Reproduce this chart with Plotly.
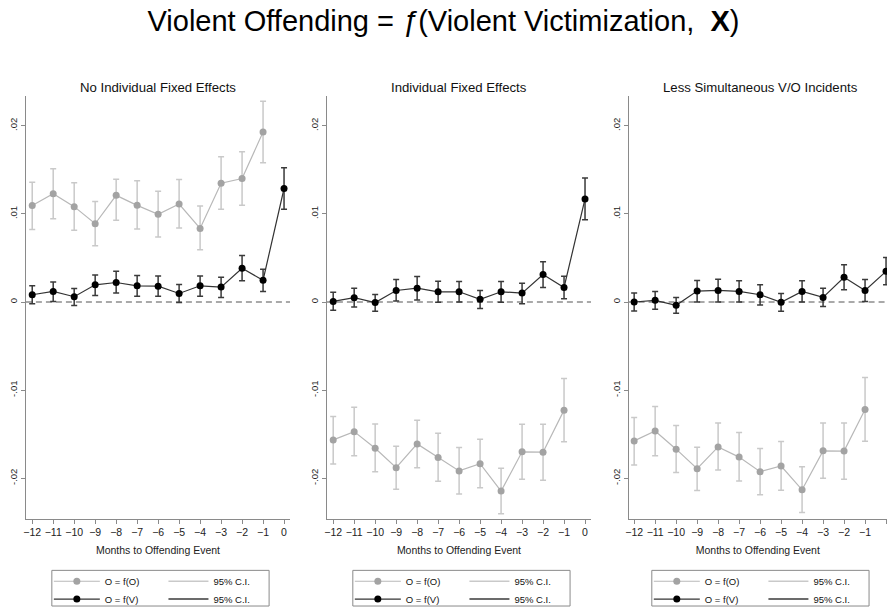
import plotly.graph_objects as go

W, H = 887, 614

months = [-12, -11, -10, -9, -8, -7, -6, -5, -4, -3, -2, -1, 0]
months_o = months[:-1]

panel_titles = ["No Individual Fixed Effects", "Individual Fixed Effects", "Less Simultaneous V/O Incidents"]
x_title = "Months to Offending Event"
name_o = "O = f(O)"
name_v = "O = f(V)"
name_ci = "95% C.I."

# Panel 1: no individual fixed effects
p1_o = [0.01094, 0.01228, 0.01082, 0.00888, 0.01210, 0.01097, 0.00996, 0.01112, 0.00835, 0.01348, 0.01401, 0.01929]
p1_o_hi = [0.01360, 0.01513, 0.01352, 0.01139, 0.01393, 0.01375, 0.01258, 0.01390, 0.01090, 0.01648, 0.01704, 0.02277]
p1_o_lo = [0.00824, 0.00944, 0.00813, 0.00637, 0.00929, 0.00828, 0.00738, 0.00839, 0.00592, 0.01052, 0.01097, 0.01580]
p1_v = [0.00082, 0.00120, 0.00060, 0.00195, 0.00221, 0.00184, 0.00180, 0.00097, 0.00184, 0.00169, 0.00382, 0.00247, 0.01288]
p1_v_hi = [0.00184, 0.00228, 0.00154, 0.00307, 0.00348, 0.00300, 0.00296, 0.00199, 0.00296, 0.00281, 0.00528, 0.00371, 0.01524]
p1_v_lo = [-0.00019, 0.00007, -0.00041, 0.00075, 0.00101, 0.00064, 0.00064, -0.00007, 0.00064, 0.00052, 0.00240, 0.00120, 0.01052]

# Panel 2: individual fixed effects
p2_o = [-0.01565, -0.01471, -0.01659, -0.01880, -0.01610, -0.01764, -0.01917, -0.01835, -0.02146, -0.01700, -0.01704, -0.01227]
p2_o_hi = [-0.01298, -0.01193, -0.01385, -0.01636, -0.01343, -0.01490, -0.01651, -0.01557, -0.01887, -0.01388, -0.01388, -0.00867]
p2_o_lo = [-0.01839, -0.01745, -0.01925, -0.02124, -0.01880, -0.02034, -0.02180, -0.02109, -0.02402, -0.02011, -0.02023, -0.01587]
p2_v = [0.00007, 0.00049, -0.00007, 0.00131, 0.00157, 0.00116, 0.00116, 0.00030, 0.00116, 0.00101, 0.00311, 0.00165, 0.01169]
p2_v_hi = [0.00112, 0.00157, 0.00086, 0.00255, 0.00288, 0.00236, 0.00232, 0.00131, 0.00232, 0.00213, 0.00457, 0.00292, 0.01408]
p2_v_lo = [-0.00094, -0.00056, -0.00105, 0.00011, 0.00022, -0.00004, 0.00000, -0.00075, -0.00004, -0.00019, 0.00165, 0.00037, 0.00933]

# Panel 3: less simultaneous V/O incidents
p3_o = [-0.01576, -0.01463, -0.01670, -0.01891, -0.01644, -0.01760, -0.01925, -0.01861, -0.02131, -0.01689, -0.01692, -0.01220]
p3_o_hi = [-0.01310, -0.01186, -0.01400, -0.01647, -0.01373, -0.01482, -0.01662, -0.01583, -0.01869, -0.01373, -0.01373, -0.00856]
p3_o_lo = [-0.01850, -0.01745, -0.01936, -0.02139, -0.01906, -0.02030, -0.02188, -0.02135, -0.02390, -0.02000, -0.02011, -0.01580]
p3_v = [0.00000, 0.00019, -0.00037, 0.00124, 0.00131, 0.00120, 0.00082, -0.00004, 0.00120, 0.00052, 0.00281, 0.00131, 0.00348]
p3_v_hi = [0.00101, 0.00120, 0.00052, 0.00243, 0.00258, 0.00240, 0.00195, 0.00097, 0.00240, 0.00157, 0.00423, 0.00255, 0.00506]
p3_v_lo = [-0.00101, -0.00082, -0.00127, 0.00000, 0.00000, 0.00000, -0.00034, -0.00105, 0.00000, -0.00052, 0.00139, 0.00007, 0.00195]

y_tickvals = [-0.02, -0.01, 0, 0.01, 0.02]
y_ticktext = ["-.02", "-.01", "0", ".01", ".02"]
x_tickvals = months

panels = [
    (p1_o, p1_o_hi, p1_o_lo, p1_v, p1_v_hi, p1_v_lo),
    (p2_o, p2_o_hi, p2_o_lo, p2_v, p2_v_hi, p2_v_lo),
    (p3_o, p3_o_hi, p3_o_lo, p3_v, p3_v_hi, p3_v_lo),
]

FONT = "Liberation Sans, Arial, sans-serif"
GRAY_M = "#a3a3a3"
GRAY_L = "#b8b8b8"
GRAY_E = "#c9c9c9"
BLK_M = "#000000"
BLK_L = "#333333"
BLK_E = "#3a3a3a"
AXIS_C = "#8a8a8a"

# pixel layout
x_left = [23, 325, 627.7]
x_right = [288, 590, 887]
x_ranges = [[-12.3, 0.285], [-12.3, 0.285], [-12.266, 0.046]]
y_top, y_bot = 97, 524
y_range = [-0.02461, 0.02337]

fig = go.Figure()

def px_x(v):
    return v / W

def px_y(v):
    return 1 - v / H

leg_box_left = [49, 351, 651]
leg_idx = 0

for i, (o, o_hi, o_lo, v, v_hi, v_lo) in enumerate(panels):
    sfx = "" if i == 0 else str(i + 1)
    xa, ya = "x" + sfx, "y" + sfx
    leg_names = []
    for k in range(4):
        leg_idx += 1
        leg_names.append("legend" if leg_idx == 1 else "legend" + str(leg_idx))

    fig.add_trace(go.Scatter(
        x=months_o, y=o, mode="lines+markers", name=name_o,
        xaxis=xa, yaxis=ya, legend=leg_names[0],
        line=dict(color=GRAY_L, width=1.2),
        marker=dict(color=GRAY_M, size=7),
        error_y=dict(type="data", symmetric=False,
                     array=[h - m for h, m in zip(o_hi, o)],
                     arrayminus=[m - l for m, l in zip(o, o_lo)],
                     color=GRAY_E, thickness=1.5, width=3),
    ))
    fig.add_trace(go.Scatter(
        x=[None], y=[None], mode="lines", name=name_ci,
        xaxis=xa, yaxis=ya, legend=leg_names[1],
        line=dict(color=GRAY_E, width=1.5),
    ))
    fig.add_trace(go.Scatter(
        x=months, y=v, mode="lines+markers", name=name_v,
        xaxis=xa, yaxis=ya, legend=leg_names[2],
        line=dict(color=BLK_L, width=1.2),
        marker=dict(color=BLK_M, size=7),
        error_y=dict(type="data", symmetric=False,
                     array=[h - m for h, m in zip(v_hi, v)],
                     arrayminus=[m - l for m, l in zip(v, v_lo)],
                     color=BLK_E, thickness=1.5, width=3),
    ))
    fig.add_trace(go.Scatter(
        x=[None], y=[None], mode="lines", name=name_ci,
        xaxis=xa, yaxis=ya, legend=leg_names[3],
        line=dict(color=BLK_E, width=1.5),
    ))

    fig.update_layout(**{
        ("xaxis" + sfx): dict(
            domain=[px_x(x_left[i]), px_x(x_right[i])], range=x_ranges[i],
            anchor=ya, tickvals=x_tickvals, ticks="outside", ticklen=4,
            tickcolor=AXIS_C, showline=True, linecolor=AXIS_C, linewidth=1,
            showgrid=False, zeroline=False,
            tickfont=dict(size=10.5, color="#222", family=FONT),
            title=dict(text=x_title, font=dict(size=10.5, color="#222", family=FONT), standoff=9),
        ),
        ("yaxis" + sfx): dict(
            domain=[px_y(y_bot), px_y(y_top)], range=y_range,
            anchor=xa, tickvals=y_tickvals, ticktext=y_ticktext, tickangle=-90,
            ticks="outside", ticklen=4, tickcolor=AXIS_C, showline=True,
            linecolor=AXIS_C, linewidth=1, showgrid=False, zeroline=False,
            tickfont=dict(size=9.5, color="#222", family=FONT),
        ),
    })

    # zero reference line
    fig.add_shape(type="line", xref=xa + " domain", yref=ya, x0=0, x1=1, y0=0, y1=0,
                  line=dict(color="#555555", width=1.2, dash="6px,4px"), layer="below")

    # subplot title
    fig.add_annotation(text=panel_titles[i], xref="paper", yref="paper",
                       x=px_x((x_left[i] + x_left[i] + 265) / 2), y=px_y(88),
                       xanchor="center", yanchor="middle", showarrow=False,
                       font=dict(size=13.2, color="#111", family=FONT))

    # legend frame
    bl = leg_box_left[i]
    fig.add_shape(type="rect", xref="paper", yref="paper",
                  x0=px_x(bl), x1=px_x(bl + 218), y0=px_y(612), y1=px_y(576),
                  line=dict(color=AXIS_C, width=1), fillcolor="rgba(0,0,0,0)")

    positions = [(bl - 3, 587, 46), (bl + 112, 587, 40), (bl - 3, 605, 46), (bl + 112, 605, 40)]
    for k, (lx, ly, iw) in enumerate(positions):
        fig.update_layout(**{leg_names[k]: dict(
            x=px_x(lx), y=px_y(ly), xanchor="left", yanchor="middle",
            orientation="v", bgcolor="rgba(0,0,0,0)", borderwidth=0,
            font=dict(size=9.5, color="#111", family=FONT), itemwidth=iw,
            tracegroupgap=0,
        )})

fig.update_layout(
    width=W, height=H, autosize=False,
    margin=dict(l=0, r=0, t=0, b=0),
    paper_bgcolor="white", plot_bgcolor="white",
    title=dict(text="Violent Offending = <i>ƒ</i>(Violent Victimization,\u00a0\u00a0<b>X</b>)",
               x=0.5, xanchor="center", y=px_y(21), yanchor="middle",
               font=dict(size=29, color="#000", family=FONT)),
    showlegend=True,
)

fig.write_html("out.html", config={"displayModeBar": False},
               post_script="document.body.style.margin='0';document.body.style.overflow='hidden';")
